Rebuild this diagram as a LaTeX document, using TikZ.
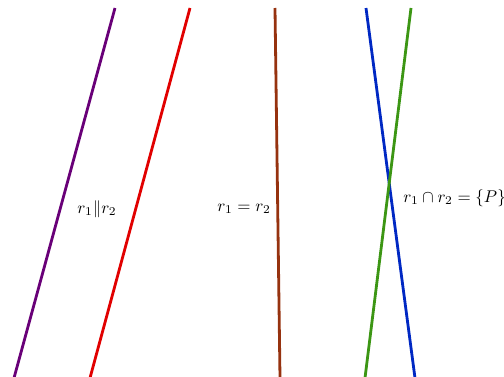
\documentclass[tikz,border=0pt]{standalone}
\definecolor{cpurple}{RGB}{105,0,120}
\definecolor{cred}{RGB}{225,0,0}
\definecolor{cbrown}{RGB}{150,50,15}
\definecolor{cblue}{RGB}{0,40,195}
\definecolor{cgreen}{RGB}{60,150,20}
\tikzset{rline/.style={line width=2.8pt},lbl/.style={scale=1.7}}
\begin{document}
\begin{tikzpicture}[x=1pt,y=1pt]
\useasboundingbox (0,0) rectangle (504,376);
\clip (0,0) rectangle (504,376);
\coordinate (pa) at (14,-2);
\coordinate (pb) at (115,368);
\coordinate (ra) at (90,-2);
\coordinate (rb) at (190,368);
\coordinate (ba) at (280,-2);
\coordinate (bb) at (275,368);
\coordinate (ua) at (415,-2);
\coordinate (ub) at (366,368);
\coordinate (ga) at (365,-2);
\coordinate (gb) at (411,368);
\draw[rline,cpurple] (pa) -- (pb);
\draw[rline,cred] (ra) -- (rb);
\draw[rline,cbrown] (ba) -- (bb);
\draw[rline,cblue] (ua) -- (ub);
\draw[rline,cgreen] (ga) -- (gb);
\node[lbl] (l1) at (97,167) {$r_1\|r_2$};
\node[lbl] (l2) at (244,167) {$r_1=r_2$};
\node[lbl,anchor=west,inner sep=0pt] (l3) at (403,178) {$r_1\cap r_2=\{P\}$};
\end{tikzpicture}
\end{document}
